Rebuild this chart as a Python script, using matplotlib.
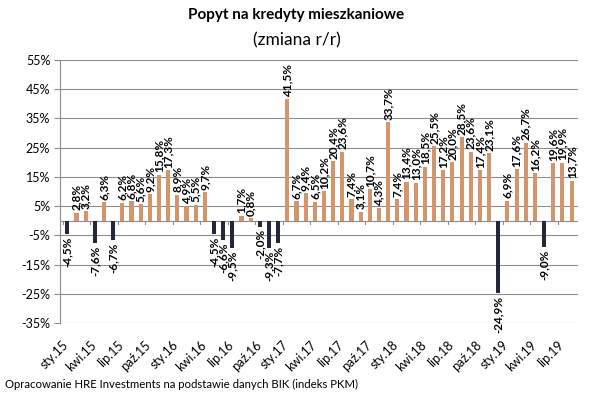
import numpy as np
import matplotlib
matplotlib.use("Agg")
import matplotlib.pyplot as plt
import matplotlib.transforms as mtransforms

plt.rcParams['font.family'] = ['Lato', 'DejaVu Sans']

values = [
    -4.5, 2.8, 3.2, -7.6, 6.3, -6.7, 6.2, 6.8, 5.6, 9.2, 15.8, 17.3,   # 2015
    8.9, 4.9, 5.5, 9.7, -4.5, -6.6, -9.5, 1.7, 0.8, -2.0, -9.3, -7.7,  # 2016
    41.5, 6.7, 9.4, 6.5, 10.2, 20.4, 23.6, 7.4, 3.1, 10.7, 4.3, 33.7,  # 2017
    7.4, 13.4, 13.0, 18.5, 25.5, 17.2, 20.0, 28.5, 23.6, 17.4, 23.1, -24.9,  # 2018
    6.9, 17.6, 26.7, 16.2, -9.0, 19.6, 19.9, 13.7,  # 2019
]
tick_labels = ['sty.15', 'kwi.15', 'lip.15', 'paź.15', 'sty.16', 'kwi.16',
               'lip.16', 'paź.16', 'sty.17', 'kwi.17', 'lip.17', 'paź.17',
               'sty.18', 'kwi.18', 'lip.18', 'paź.18', 'sty.19', 'kwi.19',
               'lip.19']
yticks = [-35, -25, -15, -5, 5, 15, 25, 35, 45, 55]

pos_color = '#D4956A'
neg_color = '#222838'

x = np.arange(len(values))
vals = np.array(values)
colors = [pos_color if v >= 0 else neg_color for v in vals]

fig = plt.figure(figsize=(5.93, 3.99), dpi=100)
ax = fig.add_axes([60 / 593, 1 - 323 / 399, (578 - 60) / 593, (323 - 60) / 399])

ax.bar(x, vals, width=0.45, color=colors, zorder=3)

for xi, v in zip(x, vals):
    txt = f'{v:.1f}%'.replace('.', ',')
    if v >= 0:
        ax.text(xi, v + 0.8, txt, rotation=90, ha='center', va='bottom',
                fontsize=8.5, fontweight='bold', zorder=4)
    else:
        ax.text(xi, v - 0.8, txt, rotation=90, ha='center', va='top',
                fontsize=8.5, fontweight='bold', zorder=4)

ax.set_ylim(-35, 55)
ax.set_xlim(-0.8, len(values) - 0.3)
ax.set_yticks(yticks)
ax.set_yticklabels([f'{t}%' for t in yticks], fontsize=9)
ax.yaxis.grid(True, color='#8c8c8c', linewidth=0.8, zorder=0)
ax.tick_params(axis='y', length=4, color='#8c8c8c', pad=3)

# category labels every 3 months, rotated 45 degrees below the plot
ax.set_xticks([])
shift = mtransforms.ScaledTranslation(-5 / 100, -16 / 100, fig.dpi_scale_trans)
lbl_tr = ax.get_xaxis_transform() + shift
for xi, lab in zip(x[::3], tick_labels):
    ax.text(xi, 0, lab, transform=lbl_tr, rotation=45, ha='right', va='top',
            rotation_mode='anchor', fontsize=9, clip_on=False)

# zero line with category tick marks
ax.axhline(0, color='#8c8c8c', linewidth=0.8, zorder=2)
for b in np.arange(-0.5, len(values), 3):
    ax.plot([b, b], [0, -1.2], color='#8c8c8c', linewidth=0.8, zorder=2)

for s in ['top', 'right', 'bottom']:
    ax.spines[s].set_visible(False)
ax.spines['left'].set_color('#8c8c8c')

fig.text(0.5, 1 - 15 / 399, 'Popyt na kredyty mieszkaniowe', ha='center',
         va='center', fontsize=11, fontweight='bold')
fig.text(0.5, 1 - 40 / 399, '(zmiana r/r)', ha='center', va='center',
         fontsize=12.5)
fig.text(5 / 593, 1 - 384 / 399,
         'Opracowanie HRE Investments na podstawie danych BIK (indeks PKM)',
         ha='left', va='center', fontsize=8.2)

fig.savefig('out.png', dpi=100)
